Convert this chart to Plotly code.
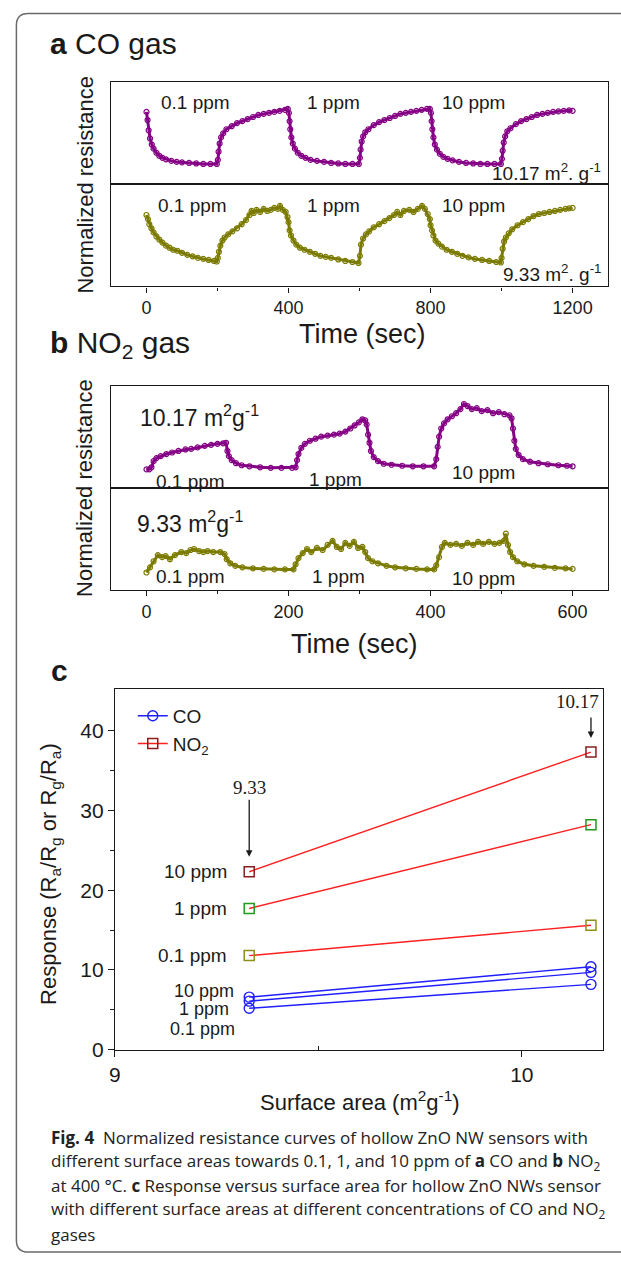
import plotly.graph_objects as go

W, H = 621, 1267

# ---------------- DATA ----------------
# Panel a: CO gas, normalized resistance (fraction of panel height)
a_hi_t = [0, 3, 6, 10, 15, 20, 28, 36, 45, 55, 70, 85, 100, 120, 140, 160, 180, 198,
          201, 203, 206, 210, 216, 225, 240, 255, 270, 285, 300, 315, 330, 345, 360, 375, 390, 398,
          401, 403, 405, 408, 412, 418, 426, 436, 448, 462, 480, 500, 520, 540, 560, 580, 598,
          601, 603, 606, 610, 616, 625, 640, 655, 670, 685, 700, 715, 730, 745, 760, 775, 790, 798,
          801, 803, 805, 808, 812, 818, 826, 836, 848, 862, 880, 900, 920, 940, 960, 980, 998,
          1001, 1003, 1006, 1010, 1016, 1025, 1040, 1055, 1070, 1085, 1100, 1115, 1130, 1145, 1160, 1175, 1190, 1200]
a_hi_v = [0.71, 0.63, 0.53, 0.45, 0.39, 0.35, 0.31, 0.28, 0.26, 0.245, 0.23, 0.22, 0.215, 0.21, 0.205, 0.20, 0.20, 0.20,
          0.24, 0.32, 0.40, 0.46, 0.50, 0.54, 0.57, 0.60, 0.62, 0.64, 0.66, 0.68, 0.69, 0.70, 0.71, 0.72, 0.73, 0.74,
          0.70, 0.62, 0.54, 0.46, 0.40, 0.35, 0.31, 0.28, 0.26, 0.24, 0.23, 0.22, 0.21, 0.205, 0.20, 0.20, 0.20,
          0.26, 0.34, 0.42, 0.47, 0.51, 0.54, 0.58, 0.61, 0.63, 0.65, 0.67, 0.69, 0.70, 0.71, 0.72, 0.73, 0.74, 0.74,
          0.70, 0.62, 0.54, 0.46, 0.39, 0.34, 0.30, 0.27, 0.25, 0.235, 0.22, 0.21, 0.205, 0.20, 0.20, 0.20, 0.20,
          0.25, 0.33, 0.41, 0.47, 0.52, 0.55, 0.59, 0.62, 0.64, 0.66, 0.68, 0.69, 0.70, 0.71, 0.715, 0.72, 0.725, 0.72]

a_lo_t = [0, 4, 8, 14, 20, 28, 36, 45, 55, 65, 75, 87, 100, 115, 130, 145, 160, 175, 190, 198,
          201, 204, 208, 214, 220, 230, 242, 255, 268, 280, 290, 296, 302, 310, 320, 330, 340, 350, 360, 370, 376, 384, 392, 397,
          400, 403, 407, 414, 422, 432, 445, 460, 475, 490, 505, 520, 540, 560, 580, 597,
          601, 604, 610, 618, 627, 640, 655, 670, 684, 697, 706, 715, 725, 740, 752, 764, 776, 784, 792, 798,
          800, 804, 808, 814, 822, 832, 845, 860, 875, 890, 907, 925, 945, 965, 985, 998,
          1000, 1003, 1007, 1012, 1020, 1030, 1045, 1060, 1075, 1090, 1105, 1120, 1135, 1150, 1165, 1180, 1190, 1200]
a_lo_v = [0.70, 0.66, 0.61, 0.57, 0.53, 0.49, 0.46, 0.43, 0.40, 0.38, 0.36, 0.35, 0.33, 0.31, 0.295, 0.28, 0.27, 0.26, 0.25, 0.245,
          0.28, 0.34, 0.40, 0.45, 0.48, 0.51, 0.54, 0.57, 0.61, 0.65, 0.70, 0.74, 0.72, 0.75, 0.73, 0.76, 0.74, 0.75, 0.77, 0.76, 0.79, 0.75, 0.73, 0.68,
          0.63, 0.55, 0.50, 0.45, 0.41, 0.38, 0.36, 0.34, 0.32, 0.30, 0.29, 0.28, 0.265, 0.25, 0.24, 0.23,
          0.30, 0.41, 0.47, 0.51, 0.54, 0.58, 0.61, 0.64, 0.67, 0.70, 0.73, 0.70, 0.74, 0.75, 0.73, 0.76, 0.79, 0.76, 0.71, 0.66,
          0.60, 0.55, 0.50, 0.45, 0.42, 0.39, 0.36, 0.34, 0.32, 0.30, 0.285, 0.27, 0.26, 0.25, 0.24, 0.235,
          0.28, 0.37, 0.44, 0.48, 0.52, 0.56, 0.60, 0.63, 0.66, 0.69, 0.71, 0.72, 0.73, 0.74, 0.75, 0.76, 0.765, 0.77]

# Panel b: NO2 gas, normalized resistance (fraction of panel height)
b_hi_t = [0, 4, 7, 10, 14, 20, 28, 36, 45, 55, 63, 72, 82, 91, 100, 108, 112,
          114, 116, 120, 126, 134, 145, 160, 175, 190, 205, 210,
          212, 214, 218, 223, 230, 238, 246, 255, 264, 272, 280, 287, 293, 299, 304, 308, 310,
          312, 314, 316, 320, 326, 334, 345, 360, 375, 390, 405,
          408, 410, 412, 415, 419, 424, 430, 436, 442, 447, 452, 458, 465, 472, 480, 488, 496, 504, 511, 514,
          516, 518, 520, 524, 530, 540, 552, 565, 580, 592, 600]
b_hi_v = [0.18, 0.18, 0.20, 0.26, 0.29, 0.31, 0.33, 0.345, 0.36, 0.375, 0.38, 0.395, 0.41, 0.42, 0.43, 0.435, 0.44,
          0.36, 0.31, 0.27, 0.24, 0.22, 0.21, 0.20, 0.195, 0.195, 0.195, 0.20,
          0.27, 0.33, 0.39, 0.43, 0.46, 0.48, 0.50, 0.51, 0.52, 0.53, 0.55, 0.58, 0.61, 0.64, 0.67, 0.66, 0.62,
          0.52, 0.44, 0.36, 0.30, 0.26, 0.235, 0.225, 0.215, 0.21, 0.21, 0.21,
          0.28, 0.40, 0.50, 0.58, 0.63, 0.67, 0.70, 0.73, 0.77, 0.82, 0.80, 0.77, 0.78, 0.75, 0.76, 0.73, 0.74, 0.72, 0.71, 0.68,
          0.58, 0.46, 0.38, 0.32, 0.28, 0.255, 0.24, 0.23, 0.22, 0.215, 0.21]

b_lo_t = [0, 5, 10, 16, 22, 27, 33, 40, 49, 56, 62, 67, 74, 80, 86, 94, 104, 110,
          113, 118, 125, 135, 150, 165, 180, 195, 207,
          210, 214, 220, 226, 232, 240, 248, 255, 262, 268, 274, 280, 286, 292, 298, 304, 308,
          312, 318, 326, 338, 350, 365, 380, 395, 405,
          408, 412, 416, 420, 428, 436, 444, 452, 460, 467, 474, 482, 490, 497, 503, 506, 509,
          512, 516, 522, 532, 545, 560, 575, 590, 600]
b_lo_v = [0.17, 0.22, 0.28, 0.34, 0.32, 0.33, 0.30, 0.34, 0.37, 0.36, 0.39, 0.40, 0.38, 0.37, 0.38, 0.37, 0.37, 0.35,
          0.30, 0.26, 0.235, 0.22, 0.21, 0.205, 0.20, 0.20, 0.20,
          0.25, 0.31, 0.36, 0.40, 0.37, 0.41, 0.39, 0.44, 0.48, 0.42, 0.40, 0.46, 0.43, 0.47, 0.41, 0.42, 0.37,
          0.31, 0.28, 0.26, 0.235, 0.22, 0.21, 0.205, 0.20, 0.20,
          0.24, 0.32, 0.42, 0.46, 0.44, 0.45, 0.43, 0.46, 0.44, 0.47, 0.45, 0.47, 0.45, 0.46, 0.48, 0.55, 0.44,
          0.37, 0.32, 0.28, 0.25, 0.235, 0.225, 0.215, 0.21, 0.205]

# Panel c: response vs surface area
surface_area = [9.33, 10.17]
ppm_levels = ["10 ppm", "1 ppm", "0.1 ppm"]
no2_resp = {"10 ppm": [22.3, 37.3], "1 ppm": [17.7, 28.2], "0.1 ppm": [11.8, 15.6]}
co_resp = {"10 ppm": [6.6, 10.4], "1 ppm": [6.1, 9.7], "0.1 ppm": [5.2, 8.2]}

a_ticks = [0, 400, 800, 1200]
b_ticks = [0, 200, 400, 600]
c_xticks = [9, 10]
c_yticks = [0, 10, 20, 30, 40]

# ---------------- STYLE ----------------
PURPLE = "#850085"
OLIVE = "#7b7b00"
FONT = "Liberation Sans, Arial, sans-serif"
SERIF = "Liberation Serif, Times New Roman, serif"
INK = "#1a1a1a"
no2_marker_colors = {"10 ppm": "#8b1c1c", "1 ppm": "#1e9a1e", "0.1 ppm": "#8f8f1a"}


def px(x):
    return x / W


def py(y):
    return 1 - y / H


fig = go.Figure()


def ts_trace(t, v, color, ax):
    fig.add_trace(go.Scatter(
        x=t, y=v, mode="lines+markers", xaxis="x" + ax, yaxis="y" + ax,
        line=dict(color=color, width=3),
        marker=dict(symbol="circle-open", size=5, color=color, line=dict(width=1.2, color=color)),
        showlegend=False, hoverinfo="skip"))


ts_trace(a_hi_t, a_hi_v, PURPLE, "")
ts_trace(a_lo_t, a_lo_v, OLIVE, "2")
ts_trace(b_hi_t, b_hi_v, PURPLE, "3")
ts_trace(b_lo_t, b_lo_v, OLIVE, "4")

# Panel c traces
for i, lvl in enumerate(ppm_levels):
    fig.add_trace(go.Scatter(
        x=surface_area, y=co_resp[lvl], mode="lines+markers", xaxis="x5", yaxis="y5",
        line=dict(color="#1f1fff", width=1.4),
        marker=dict(symbol="circle-open", size=10, color="#1f1fff", line=dict(width=1.4)),
        name="CO", showlegend=(i == 0), legendrank=1))
for i, lvl in enumerate(ppm_levels):
    fig.add_trace(go.Scatter(
        x=surface_area, y=no2_resp[lvl], mode="lines+markers", xaxis="x5", yaxis="y5",
        line=dict(color="#ff1f1f", width=1.4),
        marker=dict(symbol="square-open", size=10, color=no2_marker_colors[lvl], line=dict(width=1.5)),
        name="NO<sub>2</sub>", showlegend=(i == 0), legendrank=2))

# ---------------- AXES ----------------
box = dict(showline=True, linecolor=INK, linewidth=1.3, mirror=True, showgrid=False, zeroline=False)

xa = [106, 608]
a_top, a_mid, a_bot = 83, 186, 289
b_top, b_mid, b_bot = 389, 492, 595
c_l, c_r, c_t, c_b = 110, 603, 695, 1059

tickfont = dict(family=FONT, size=18, color=INK)

layout_axes = dict(
    xaxis=dict(domain=[px(xa[0]), px(xa[1])], range=[-100, 1300], anchor="y", showticklabels=False, ticks="", **box),
    yaxis=dict(domain=[py(a_mid), py(a_top)], range=[0, 1], anchor="x", showticklabels=False, ticks="", **box),
    xaxis2=dict(domain=[px(xa[0]), px(xa[1])], range=[-100, 1300], anchor="y2", tickvals=a_ticks,
                ticks="outside", ticklen=5, tickcolor=INK, tickfont=tickfont,
                minor=dict(tickvals=[200, 600, 1000], ticks="outside", ticklen=3, tickcolor=INK), **box),
    yaxis2=dict(domain=[py(a_bot), py(a_mid)], range=[0, 1], anchor="x2", showticklabels=False, ticks="", **box),
    xaxis3=dict(domain=[px(xa[0]), px(xa[1])], range=[-50, 650], anchor="y3", showticklabels=False, ticks="", **box),
    yaxis3=dict(domain=[py(b_mid), py(b_top)], range=[0, 1], anchor="x3", showticklabels=False, ticks="", **box),
    xaxis4=dict(domain=[px(xa[0]), px(xa[1])], range=[-50, 650], anchor="y4", tickvals=b_ticks,
                ticks="outside", ticklen=5, tickcolor=INK, tickfont=tickfont,
                minor=dict(tickvals=[100, 300, 500], ticks="outside", ticklen=3, tickcolor=INK), **box),
    yaxis4=dict(domain=[py(b_bot), py(b_mid)], range=[0, 1], anchor="x4", showticklabels=False, ticks="", **box),
    xaxis5=dict(domain=[px(c_l), px(c_r)], range=[9, 10.2], anchor="y5", tickvals=c_xticks,
                ticks="outside", ticklen=6, tickcolor=INK, tickfont=dict(family=FONT, size=21, color=INK),
                minor=dict(tickvals=[9.5], ticks="inside", ticklen=4, tickcolor=INK), **box),
    yaxis5=dict(domain=[py(c_b), py(c_t)], range=[0, 45.2], anchor="x5", tickvals=c_yticks,
                ticks="outside", ticklen=6, tickcolor=INK, tickfont=dict(family=FONT, size=21, color=INK),
                minor=dict(tickvals=[5, 15, 25, 35], ticks="outside", ticklen=4, tickcolor=INK), **box),
)

# ---------------- ANNOTATIONS ----------------
ann = []


def text(x, y, s, size, xanchor="center", family=FONT, angle=0, color=INK):
    ann.append(dict(xref="paper", yref="paper", x=px(x), y=py(y), text=s, showarrow=False,
                    xanchor=xanchor, yanchor="middle", textangle=angle,
                    font=dict(family=family, size=size, color=color)))


# panel titles
text(42, 44, "<b>a</b> CO gas", 30, "left")
text(42, 348, "<b>b</b> NO<sub>2</sub> gas", 30, "left")
text(43, 676, "<b>c</b>", 30, "left")

# panel a labels
text(80, 186, "Normalized resistance", 22, angle=-90)
for x, s in zip([191, 331, 472], ["0.1 ppm", "1 ppm", "10 ppm"]):
    text(x, 103, s, 19)
for x, s in zip([188, 331, 472], ["0.1 ppm", "1 ppm", "10 ppm"]):
    text(x, 207, s, 19)
text(603, 174, "10.17 m<sup>2</sup>. g<sup>-1</sup>", 19, "right")
text(603, 275, "9.33 m<sup>2</sup>. g<sup>-1</sup>", 19, "right")
text(360, 337, "Time (sec)", 27)

# panel b labels
text(80, 492, "Normalized resistance", 22, angle=-90)
text(133, 420, "10.17 m<sup>2</sup>g<sup>-1</sup>", 23, "left")
text(130, 527, "9.33 m<sup>2</sup>g<sup>-1</sup>", 23, "left")
for x, y, s in zip([186, 333, 482], [486, 484, 477], ["0.1 ppm", "1 ppm", "10 ppm"]):
    text(x, y, s, 19)
for x, y, s in zip([186, 336, 482], [582, 582, 584], ["0.1 ppm", "1 ppm", "10 ppm"]):
    text(x, y, s, 19)
text(352, 650, "Time (sec)", 27)

# panel c labels
text(45, 882, "Response (R<sub>a</sub>/R<sub>g</sub> or R<sub>g</sub>/R<sub>a</sub>)", 22, angle=-90)
text(357, 1111, "Surface area (m<sup>2</sup>g<sup>-1</sup>)", 22)
for y, s in zip([879, 916, 964], ppm_levels):
    text(225, y, s, 19, "right")
for x, y, s in zip([232, 227, 233], [1000, 1018, 1038], ppm_levels):
    text(x, y, s, 18, "right")

# arrows
ann.append(dict(xref="x5", yref="y5", x=surface_area[0], y=no2_resp["10 ppm"][0], text="9.33",
                showarrow=True, arrowhead=2, arrowsize=1, arrowwidth=1.3, arrowcolor=INK,
                ax=0, ay=-84, standoff=15, font=dict(family=SERIF, size=19, color=INK)))
ann.append(dict(xref="x5", yref="y5", x=surface_area[1], y=no2_resp["10 ppm"][1], text="",
                showarrow=True, arrowhead=2, arrowsize=1, arrowwidth=1.3, arrowcolor=INK,
                ax=0, ay=-36, standoff=14))
text(577, 708, "10.17", 19, family=SERIF)

# caption
cap_lines = [
    "<b>Fig. 4</b>  Normalized resistance curves of hollow ZnO NW sensors with",
    "different surface areas towards 0.1, 1, and 10 ppm of <b>a</b> CO and <b>b</b> NO<sub>2</sub>",
    "at 400 °C. <b>c</b> Response versus surface area for hollow ZnO NWs sensor",
    "with different surface areas at different concentrations of CO and NO<sub>2</sub>",
    "gases",
]
for i, line in enumerate(cap_lines):
    text(43, 1147 + i * 24.5, line, 17, "left", family="Open Sans, Noto Sans, sans-serif", color="#222")

# outer rounded border (open on the right)
r = 12
L, T, B, R = 10.5, 13.5, 1263, 640
path = (f"M {px(R)},{py(T)} L {px(L + r)},{py(T)} Q {px(L)},{py(T)} {px(L)},{py(T + r)} "
        f"L {px(L)},{py(B - r)} Q {px(L)},{py(B)} {px(L + r)},{py(B)} L {px(R)},{py(B)}")
shapes = [dict(type="path", xref="paper", yref="paper", path=path,
               line=dict(color="#6a6a6a", width=1.5))]

fig.update_layout(
    width=W, height=H, margin=dict(l=0, r=0, t=0, b=0),
    paper_bgcolor="white", plot_bgcolor="white",
    font=dict(family=FONT, color=INK),
    annotations=ann, shapes=shapes,
    legend=dict(x=px(128), y=py(703), xanchor="left", yanchor="top", bgcolor="rgba(0,0,0,0)",
                font=dict(family=FONT, size=19, color=INK), tracegroupgap=0),
)
fig.update_layout(**layout_axes)

fig.write_html("out.html", config={"displayModeBar": False},
               post_script="document.body.style.margin='0px';document.body.style.overflow='hidden';")
